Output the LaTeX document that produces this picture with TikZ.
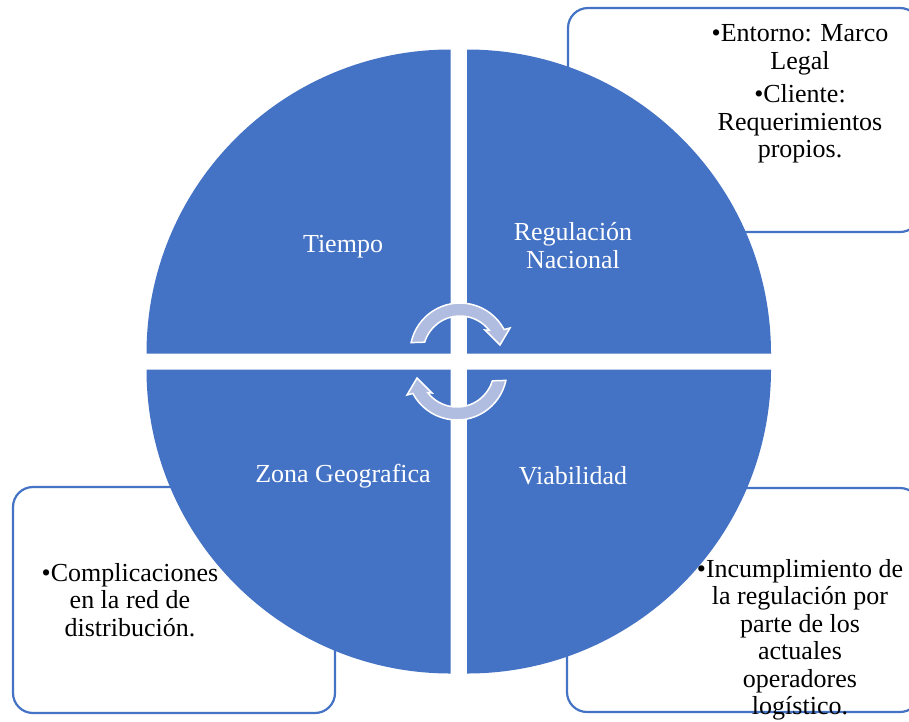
\documentclass[tikz,border=0pt]{standalone}
\usepackage{fontspec}
\setmainfont{Liberation Serif}
\definecolor{quadblue}{HTML}{4472C4}
\definecolor{arrowfill}{HTML}{B1BDE0}
\begin{document}
\begin{tikzpicture}[x=1pt,y=-1pt,
  notebox/.style={draw=quadblue, line width=2.2pt, rounded corners=20pt, fill=white},
  notetext/.style={align=center, font=\fontsize{26}{27.5}\selectfont, text=black, inner sep=0pt},
  quadrant/.style={fill=quadblue},
  quadlabel/.style={align=center, font=\fontsize{26}{28}\selectfont, text=white, inner sep=0pt},
  cyclearrow/.style={fill=arrowfill, draw=white, line width=1.5pt, line join=miter},
  pics/cyclearr/.style={code={
    \draw[cyclearrow] (192:50) arc[start angle=192, end angle=332, radius=50]
      -- (50,-25) -- (40,-8) -- (25,-23) -- (322:37)
      arc[start angle=322, end angle=197, radius=37] -- cycle;
  }}]
\useasboundingbox (0,0) rectangle (909,721);

% corner note boxes (behind the circle)
\draw[notebox] (568,8) rectangle (920,232);
\draw[notebox] (13,487) rectangle (335,713);
\draw[notebox] (567,488) rectangle (920,712);

\node[notetext] (notetr) at (800,94)
  {•Entorno: Marco\\Legal\\[6pt]•Cliente:\\Requerimientos\\propios.};
\node[notetext] (notebl) at (130,600)
  {•Complicaciones\\en la red de\\distribución.};
\node[notetext] (notebr) at (800,640)
  {•Incumplimiento de\\la regulación por\\parte de los\\actuales\\operadores\\logístico.};

% four quarter discs separated by a white cross
\fill[quadrant] (450.5,353.5) -- ++(-304,0) arc[start angle=180, end angle=270, radius=304] -- cycle;
\fill[quadrant] (467,353.5) -- ++(0,-304) arc[start angle=270, end angle=360, radius=304] -- cycle;
\fill[quadrant] (467,369.5) -- ++(304,0) arc[start angle=0, end angle=90, radius=304] -- cycle;
\fill[quadrant] (450.5,369.5) -- ++(0,304) arc[start angle=90, end angle=180, radius=304] -- cycle;

\node[quadlabel] (tiempo) at (343,247) {Tiempo};
\node[quadlabel] (regulacion) at (573,246) {Regulación\\Nacional};
\node[quadlabel] (zona) at (343,476) {Zona Geografica};
\node[quadlabel] (viabilidad) at (573,476) {Viabilidad};

% circular arrows in the middle
\pic at (460,353) {cyclearr};
\pic[rotate=180] at (457,370) {cyclearr};
\end{tikzpicture}
\end{document}
